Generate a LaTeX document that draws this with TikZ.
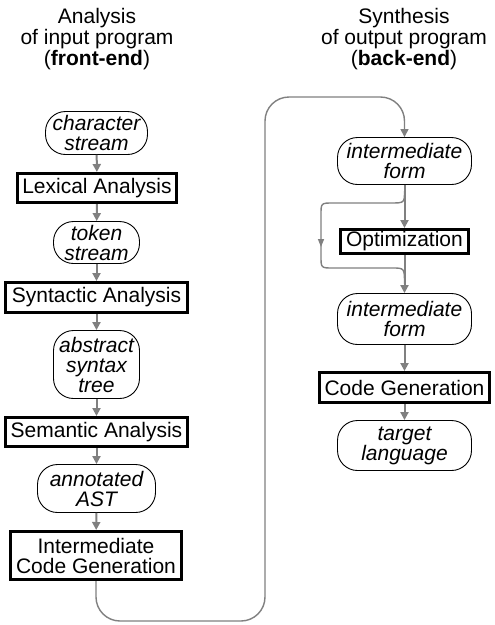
\documentclass[tikz,border=0pt]{standalone}
\usepackage{fontspec}
\setmainfont{Liberation Sans}
\usetikzlibrary{arrows.meta}
\definecolor{flowgray}{RGB}{128,128,128}

\begin{document}
\begin{tikzpicture}[x=1pt,y=-1pt,
    proc/.style={draw, line width=3pt, inner sep=1pt, align=center,
      font=\fontsize{21}{20}\selectfont},
    data/.style={draw, line width=0.9pt, rounded corners=20pt, inner sep=1pt,
      align=center, font=\fontsize{21}{20}\selectfont\itshape},
    flow/.style={draw=flowgray, line width=2pt, -{Triangle[length=8pt,width=8pt]}},
    thinflow/.style={draw=flowgray, line width=1.4pt, -{Triangle[length=8pt,width=6pt]}},
    line/.style={draw=flowgray, line width=1.4pt},
    heading/.style={align=center, font=\fontsize{21}{21}\selectfont}]
      \useasboundingbox (0,0) rectangle (495,625);

      % headings
      \node[heading] (front) at (97,39) {Analysis\\of input program\\(\textbf{front-end})};
      \node[heading] (back) at (404,39) {Synthesis\\of output program\\(\textbf{back-end})};

      % front-end
      \node[data, minimum width=102, minimum height=43] (chars) at (96.5,133) {character\\stream};
      \node[proc, minimum width=159, minimum height=29] (lex) at (97,188) {Lexical Analysis};
      \node[data, minimum width=86, minimum height=42] (tokens) at (96.5,242.5) {token\\stream};
      \node[proc, minimum width=182, minimum height=30] (syn) at (96.5,297.5) {Syntactic Analysis};
      \node[data, minimum width=86, minimum height=68] (ast) at (96.5,364.5) {abstract\\syntax\\tree};
      \node[proc, minimum width=182, minimum height=29] (sem) at (96.5,432) {Semantic Analysis};
      \node[data, minimum width=118, minimum height=48] (aast) at (96.5,488.5) {annotated\\AST};
      \node[proc, minimum width=171, minimum height=48] (icg) at (96,555.5) {Intermediate\\Code Generation};

      \draw[flow] (chars) -- (lex);
      \draw[flow] (lex) -- (tokens);
      \draw[flow] (tokens) -- (syn);
      \draw[flow] (syn) -- (ast);
      \draw[flow] (ast) -- (sem);
      \draw[flow] (sem) -- (aast);
      \draw[flow] (aast) -- (icg);

      % back-end
      \node[data, minimum width=134, minimum height=47] (form1) at (404.5,161) {intermediate\\form};
      \node[proc, minimum width=128, minimum height=24] (opt) at (404.5,241.5) {Optimization};
      \node[data, minimum width=134, minimum height=51] (form2) at (404.5,319) {intermediate\\form};
      \node[proc, minimum width=170, minimum height=30] (cg) at (404.5,387.5) {Code Generation};
      \node[data, minimum width=134, minimum height=50] (target) at (404.5,445.5) {target\\language};

      \draw[flow] (form1) -- (opt);
      \draw[flow] (opt) -- (form2);
      \draw[flow] (form2) -- (cg);
      \draw[flow] (cg) -- (target);

      % skipping the optimization
      \coordinate (split) at (404.5,191);
      \coordinate (join) at (404.5,284);
      \draw[thinflow] (split) .. controls (404.5,203) .. (390,203) -- (333,203)
        .. controls (321,203) .. (321,215) -- (321,247);
      \draw[line] (321,240) -- (321,256) .. controls (321,268) .. (333,268)
        -- (392,268) .. controls (404.5,268) .. (join);

      % front-end to back-end
      \draw[thinflow, -{Triangle[length=8pt,width=8pt]}, rounded corners=24pt]
        (icg.south) |- (265,621) |- (404.5,97) -- (form1.north);
    \end{tikzpicture}
\end{document}
